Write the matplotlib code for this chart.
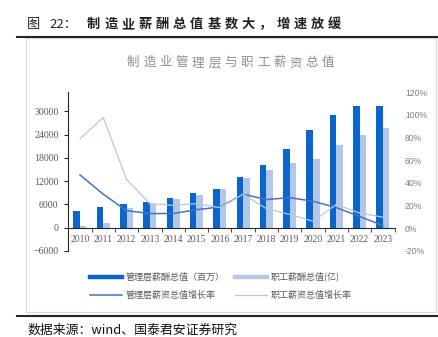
import numpy as np
import matplotlib
matplotlib.use('Agg')
import matplotlib.pyplot as plt
from matplotlib.lines import Line2D
from matplotlib.patches import Rectangle
from matplotlib.ticker import FuncFormatter

plt.rcParams['font.family'] = ['Noto Sans CJK SC', 'DejaVu Sans']

# data
years = [str(y) for y in range(2010, 2024)]
mgmt_pay = [4200, 5400, 6000, 6600, 7600, 8900, 10100, 13100, 16300, 20400, 25100, 29100, 31300, 31300]
staff_pay = [400, 1100, 5100, 6100, 7300, 8500, 10100, 12900, 15000, 16700, 17600, 21300, 23900, 25700]
mgmt_growth = [47, 30, 15.5, 13, 13, 16.4, 18.7, 30, 25.3, 27, 23.8, 18.2, 10.4, 2.4]
staff_growth = [78.8, 97.5, 43, 21.7, 20.2, 21.7, 18.2, 30, 17.3, 12.2, 6.2, 21, 13.4, 9.8]
labels = ['管理层薪酬总值（百万）', '管理层薪资总值增长率', '职工薪酬总值(亿)', '职工薪资总值增长率']

W, H = 439, 337
fx = lambda x: x / W
fy = lambda y: 1 - y / H

c_mgmt = '#0A66CC'
c_staff = '#B4C7E7'
c_mline = '#4472C4'
c_sline = '#B4C7E7'
grey = '#595959'

fig = plt.figure(figsize=(W / 100, H / 100), dpi=100)

# header / footer
fig.text(fx(27), fy(28), '图', fontsize=9.5, va='baseline', color='#222222')
fig.text(fx(49), fy(28), '22：', fontsize=9.5, va='baseline', color='#222222')
for i, ch in enumerate('制造业薪酬总值基数大，增速放缓'):
    fig.text(fx(87 + i * 17.2), fy(28), ch, fontsize=9.5, fontweight='bold',
             va='baseline', color='#222222')
fig.add_artist(Line2D([fx(17), 1], [fy(36.7)] * 2, color='#262626', lw=1.5))
fig.add_artist(Line2D([fx(17), 1], [fy(315.7)] * 2, color='#262626', lw=1.5))
fig.add_artist(Rectangle((fx(25.7), fy(311.7)), fx(436) - fx(25.7), fy(38) - fy(311.7),
                         transform=fig.transFigure, fill=False, ec='#d9d9d9', lw=0.8))
for i, ch in enumerate('制造业管理层与职工薪资总值'):
    fig.text(fx(127 + i * 16.25), fy(66), ch, fontsize=9, va='baseline', color='#8c8c8c')
fig.text(fx(27), fy(330), '数据来源：wind、国泰君安证券研究', fontsize=9.3, va='center', color='#111111')

ax = fig.add_axes([fx(68.3), fy(251), fx(394.6) - fx(68.3), fy(92) - fy(251)])
x = np.arange(len(years))
ax.bar(x - 0.14, mgmt_pay, width=0.28, color=c_mgmt, zorder=2)
ax.bar(x + 0.14, staff_pay, width=0.28, color=c_staff, zorder=2)
ax.set_xlim(-0.5, len(years) - 0.5)
ax.set_ylim(-6000, 35000)
ax.set_yticks(range(-6000, 30001, 6000))
for s in ['top', 'right']:
    ax.spines[s].set_visible(False)
ax.spines['bottom'].set_position(('data', 0))
ax.spines['bottom'].set_color('#262626')
ax.spines['left'].set_color('#262626')
ax.set_xticks(x)
ax.set_xticklabels(years)
ax.set_xticks(np.arange(-0.5, len(years)), minor=True)
ax.tick_params(axis='x', which='major', length=0, pad=5, labelsize=7, labelcolor=grey)
ax.tick_params(axis='x', which='minor', length=3, direction='out', color='#262626')
ax.tick_params(axis='y', length=3, direction='out', pad=4, labelsize=7.1, labelcolor=grey,
               color='#262626')
for t in ax.get_xticklabels() + ax.get_yticklabels():
    t.set_fontfamily('Liberation Serif')

ax2 = ax.twinx()
ax2.plot(x, np.array(mgmt_growth) / 100, color=c_mline, lw=1.1)
ax2.plot(x, np.array(staff_growth) / 100, color=c_sline, lw=0.9)
ax2.set_ylim(-0.2, 1.2)
ax2.set_yticks(np.arange(-0.2, 1.21, 0.2))
ax2.yaxis.set_major_formatter(FuncFormatter(lambda v, p: '%d%%' % round(v * 100)))
for s in ax2.spines.values():
    s.set_visible(False)
ax2.tick_params(axis='y', length=0, pad=7.5, labelsize=6.2, labelcolor='#7f7f7f')
for t in ax2.get_yticklabels():
    t.set_fontfamily('Liberation Sans')

handles = [Line2D([], [], color=c_mgmt, lw=3.2), Line2D([], [], color=c_mline, lw=1.1),
           Line2D([], [], color=c_staff, lw=3.2), Line2D([], [], color=c_sline, lw=0.9)]
leg = fig.legend(handles, labels, ncol=2, loc='center', bbox_to_anchor=(fx(221), fy(286)),
                 frameon=False, fontsize=6.5, handlelength=3.5, handletextpad=0.4,
                 columnspacing=1.2, labelspacing=1.0)
for t in leg.get_texts():
    t.set_color(grey)

fig.savefig('out.png', dpi=100)
